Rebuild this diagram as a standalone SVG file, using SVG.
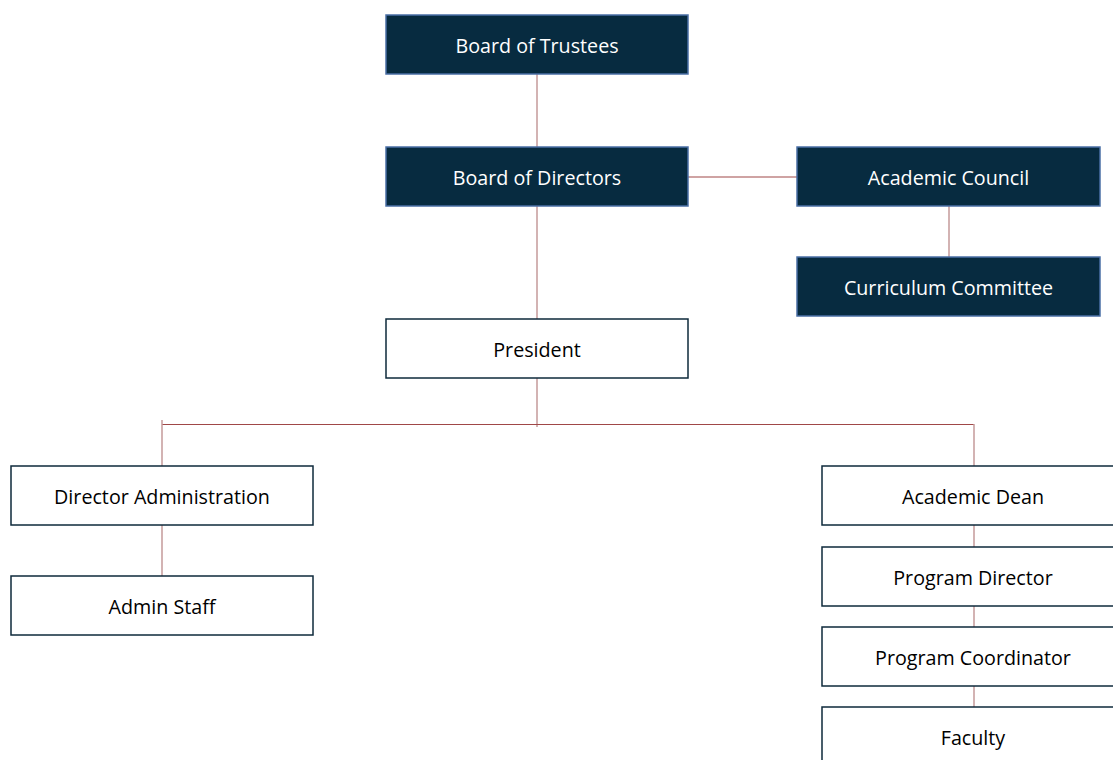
<svg xmlns="http://www.w3.org/2000/svg" width="1113" height="760" viewBox="0 0 1113 760">
<style>
.dark rect{fill:#072B40;stroke:#4A6FA5;stroke-width:1.5}
.light rect{fill:#FFFFFF;stroke:#0E2A3B;stroke-width:1.5}
text{font-family:"Open Sans","Noto Sans","Liberation Sans",sans-serif;font-size:19.7px;text-anchor:middle;dominant-baseline:central}
.dark text{fill:#FFFFFF}
.light text{fill:#000000}
.c line{stroke:#A04848;stroke-width:1.2}
.c line.v{stroke:#C49A9A;stroke-width:1.5}
</style>
<rect width="1113" height="760" fill="#FFFFFF"/>
<g class="c" id="connectors">
<line class="v" x1="537" y1="74" x2="537" y2="147"/>
<line x1="688" y1="177" x2="797" y2="177"/>
<line class="v" x1="949" y1="206" x2="949" y2="257"/>
<line class="v" x1="537" y1="206" x2="537" y2="319"/>
<line class="v" x1="537" y1="378" x2="537" y2="427"/>
<line x1="162" y1="424.5" x2="974" y2="424.5"/>
<line class="v" x1="162" y1="420" x2="162" y2="466"/>
<line class="v" x1="974" y1="424" x2="974" y2="466"/>
<line class="v" x1="162" y1="525" x2="162" y2="576"/>
<line class="v" x1="974" y1="525" x2="974" y2="547"/>
<line class="v" x1="974" y1="606" x2="974" y2="627"/>
<line class="v" x1="974" y1="686" x2="974" y2="707"/>
</g>
<g id="board-trustees" class="dark"><rect x="386" y="15" width="302" height="59"/><text x="537" y="45">Board of Trustees</text></g>
<g id="board-directors" class="dark"><rect x="386" y="147" width="302" height="59"/><text x="537" y="177">Board of Directors</text></g>
<g id="academic-council" class="dark"><rect x="797" y="147" width="303" height="59"/><text x="948.5" y="177">Academic Council</text></g>
<g id="curriculum-committee" class="dark"><rect x="797" y="257" width="303" height="59"/><text x="948.5" y="287">Curriculum Committee</text></g>
<g id="president" class="light"><rect x="386" y="319" width="302" height="59"/><text x="537" y="349">President</text></g>
<g id="director-administration" class="light"><rect x="11" y="466" width="302" height="59"/><text x="162" y="496">Director Administration</text></g>
<g id="admin-staff" class="light"><rect x="11" y="576" width="302" height="59"/><text x="162" y="606">Admin Staff</text></g>
<g id="academic-dean" class="light"><rect x="822" y="466" width="302" height="59"/><text x="973" y="496">Academic Dean</text></g>
<g id="program-director" class="light"><rect x="822" y="547" width="302" height="59"/><text x="973" y="577">Program Director</text></g>
<g id="program-coordinator" class="light"><rect x="822" y="627" width="302" height="59"/><text x="973" y="657">Program Coordinator</text></g>
<g id="faculty" class="light"><rect x="822" y="707" width="302" height="59"/><text x="973" y="737">Faculty</text></g>
</svg>
